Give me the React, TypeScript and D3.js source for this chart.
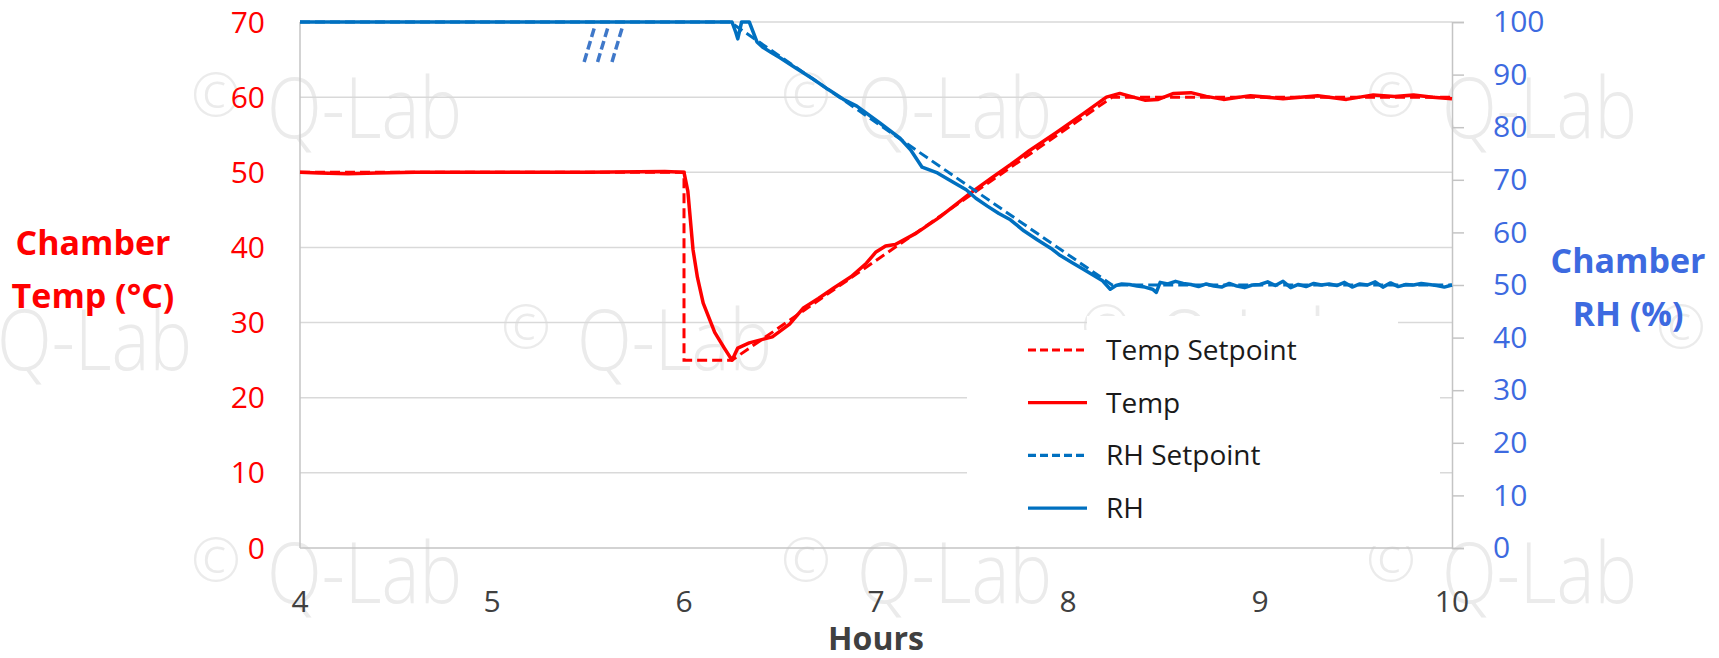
// App.tsx
import { useEffect, useRef } from 'react';
import * as d3 from 'd3';

// Temperature setpoint (°C) vs hours
const tempSetHours = [4, 6.0, 6.0, 6.25, 8.23, 10];
const tempSetValues = [50, 50, 25, 25, 60, 60];

// Measured chamber temperature (°C)
const tempHours = [
  4, 4.1, 4.25, 4.4, 4.6, 5, 5.5, 5.9, 6.0, 6.02, 6.047, 6.07, 6.1, 6.16, 6.21, 6.25,
  6.28, 6.34, 6.46, 6.55, 6.62, 6.7, 6.78, 6.87, 6.95, 7.0, 7.05, 7.1, 7.21, 7.33, 7.49,
  7.6, 7.7, 7.8, 7.94, 8.08, 8.2, 8.27, 8.34, 8.4, 8.47, 8.55, 8.64, 8.72, 8.81, 8.95,
  9.12, 9.3, 9.45, 9.59, 9.7, 9.8, 9.9, 10,
];
const tempValues = [
  50, 49.9, 49.8, 49.9, 50, 50, 50, 50.1, 50, 47.5, 39.7, 36, 32.6, 28.7, 26.6, 25.0,
  26.6, 27.3, 28.1, 29.8, 31.9, 33.2, 34.6, 36.1, 37.9, 39.4, 40.2, 40.4, 41.9, 44.0, 47.2,
  49.2, 51.0, 52.9, 55.3, 57.8, 60.0, 60.5, 60.0, 59.6, 59.7, 60.5, 60.6, 60.1, 59.7, 60.2,
  59.8, 60.2, 59.7, 60.3, 60.1, 60.3, 60.0, 59.8,
];

// RH setpoint (%)
const rhSetHours = [4, 6.24, 8.23, 10];
const rhSetValues = [100, 100, 50, 50];

// Measured chamber RH (%)
const rhHours = [
  4, 6.25, 6.27, 6.28, 6.3, 6.34, 6.38, 6.41, 6.45, 6.5, 6.58, 6.67, 6.75, 6.83, 6.9,
  7.02, 7.125, 7.18, 7.24, 7.32, 7.4, 7.47, 7.52, 7.58, 7.64, 7.7, 7.77, 7.84, 7.91, 7.96,
  8.02, 8.08, 8.13, 8.18, 8.22, 8.25, 8.28, 8.32, 8.36, 8.4, 8.44, 8.46, 8.48, 8.52, 8.56,
  8.6, 8.64, 8.68, 8.72, 8.76, 8.8, 8.84, 8.88, 8.92, 8.96, 9.0, 9.04, 9.08, 9.12, 9.16,
  9.2, 9.24, 9.28, 9.32, 9.36, 9.4, 9.44, 9.48, 9.52, 9.56, 9.6, 9.64, 9.68, 9.72, 9.76,
  9.8, 9.84, 9.88, 9.92, 9.96, 10,
];
const rhValues = [
  100, 100, 98, 96.8, 100, 100, 96.2, 95.2, 94.3, 93.2, 91.3, 89.2, 87.2, 85.3, 84.0,
  80.8, 77.9, 75.7, 72.4, 71.3, 69.6, 68.1, 66.5, 65.0, 63.6, 62.4, 60.3, 58.6, 57.0, 55.6,
  54.3, 53.0, 51.9, 50.8, 49.2, 49.9, 50.2, 50.1, 49.8, 49.6, 49.2, 48.6, 50.5, 50.2, 50.7,
  50.3, 50.1, 49.7, 50.2, 49.8, 49.6, 50.3, 49.8, 49.5, 50.0, 50.1, 50.6, 49.9, 50.7, 49.5,
  50.1, 49.7, 50.3, 50.0, 50.2, 49.9, 50.5, 49.6, 50.2, 50.0, 50.6, 49.6, 50.4, 49.7, 50.1,
  50.0, 50.3, 50.1, 49.9, 49.6, 50.0,
];

// axis ticks
const hourTicks = [4, 5, 6, 7, 8, 9, 10];
const tempTicks = [0, 10, 20, 30, 40, 50, 60, 70];
const rhTicks = [0, 10, 20, 30, 40, 50, 60, 70, 80, 90, 100];

// "///" break marks near the top (hour at bottom end)
const breakHours = [5.48, 5.55, 5.625];

const legendItems = ['Temp Setpoint', 'Temp', 'RH Setpoint', 'RH'];

const RED = '#ff0000';
const BLUE = '#0070c0';
const AXIS_BLUE = '#3d6ae0';

const App = () => {
  const ref = useRef<SVGSVGElement | null>(null);

  useEffect(() => {
    const W = 1719;
    const H = 658;
    const left = 300, right = 1452, top = 22, bottom = 548;
    const svg = d3.select(ref.current).attr('width', W).attr('height', H);
    svg.selectAll('*').remove();

    const x = d3.scaleLinear().domain([4, 10]).range([left, right]);
    const yT = d3.scaleLinear().domain([0, 70]).range([bottom, top]);
    const yR = d3.scaleLinear().domain([0, 100]).range([bottom, top]);

    svg.append('rect').attr('width', W).attr('height', H).attr('fill', '#fff');

    // watermarks
    const wm = svg.append('g').attr('fill', '#ebebeb').style('font-family', '"Open Sans", sans-serif').style('font-weight', 300);
    const rows = [
      { y: 138, xs: [195, 785, 1370] },
      { y: 370, xs: [-75, 505, 1085, 1660] },
      { y: 603, xs: [195, 785, 1370] },
    ];
    rows.forEach((r) => {
      r.xs.forEach((x0) => {
        wm.append('text').attr('x', x0 - 4).attr('y', r.y - 22).style('font-size', '60px').text('©');
        wm.append('text').attr('x', x0 + 72).attr('y', r.y).style('font-size', '84px')
          .attr('textLength', 195).attr('lengthAdjust', 'spacingAndGlyphs').text('Q-Lab');
      });
    });

    // gridlines
    svg.append('g').selectAll('line').data(tempTicks.filter((t) => t > 0)).enter().append('line')
      .attr('x1', left).attr('x2', right)
      .attr('y1', (d) => yT(d)).attr('y2', (d) => yT(d))
      .attr('stroke', '#d9d9d9').attr('stroke-width', 1.5);

    // axes lines
    svg.append('line').attr('x1', left).attr('x2', left).attr('y1', top).attr('y2', bottom)
      .attr('stroke', '#c4c4c4').attr('stroke-width', 1.5);
    svg.append('line').attr('x1', left).attr('x2', right).attr('y1', bottom).attr('y2', bottom)
      .attr('stroke', '#c4c4c4').attr('stroke-width', 1.5);

    // right axis
    const ra = svg.append('g').attr('transform', `translate(${right},0)`)
      .call(d3.axisRight(yR).tickValues(rhTicks).tickSize(12).tickPadding(29).tickFormat((d) => String(d)));
    ra.select('.domain').attr('stroke', '#c4c4c4').attr('stroke-width', 1.5);
    ra.selectAll('.tick line').attr('stroke', '#c4c4c4').attr('stroke-width', 1.5);
    ra.selectAll('.tick text').attr('fill', AXIS_BLUE).style('font-size', '30px')
      .style('font-family', '"Open Sans", sans-serif');

    // left tick labels
    svg.append('g').selectAll('text').data(tempTicks).enter().append('text')
      .attr('x', 265).attr('y', (d) => yT(d)).attr('dy', '0.35em')
      .attr('text-anchor', 'end').attr('fill', RED)
      .style('font-size', '30px').style('font-family', '"Open Sans", sans-serif')
      .text((d) => d);

    // bottom tick labels
    svg.append('g').selectAll('text').data(hourTicks).enter().append('text')
      .attr('x', (d) => x(d)).attr('y', 601).attr('dy', '0.35em')
      .attr('text-anchor', 'middle').attr('fill', '#404040')
      .style('font-size', '30px').style('font-family', '"Open Sans", sans-serif')
      .text((d) => d);

    // axis titles
    svg.append('text').attr('x', (left + right) / 2).attr('y', 650).attr('text-anchor', 'middle')
      .attr('fill', '#404040').style('font-size', '32px').style('font-weight', 700)
      .style('font-family', '"Open Sans", sans-serif').text('Hours');

    const lt = svg.append('text').attr('text-anchor', 'middle').attr('fill', RED)
      .style('font-size', '34px').style('font-weight', 700).style('font-family', '"Open Sans", sans-serif');
    lt.append('tspan').attr('x', 93).attr('y', 255).text('Chamber');
    lt.append('tspan').attr('x', 93).attr('y', 308).text('Temp (°C)');

    const rt = svg.append('text').attr('text-anchor', 'middle').attr('fill', AXIS_BLUE)
      .style('font-size', '34px').style('font-weight', 700).style('font-family', '"Open Sans", sans-serif');
    rt.append('tspan').attr('x', 1628).attr('y', 273).text('Chamber');
    rt.append('tspan').attr('x', 1628).attr('y', 326).text('RH (%)');

    // break marks
    svg.append('g').selectAll('line').data(breakHours).enter().append('line')
      .attr('x1', (d) => x(d)).attr('y1', yR(92.4))
      .attr('x2', (d) => x(d + 0.053)).attr('y2', yR(98.9))
      .attr('stroke', '#3f78c9').attr('stroke-width', 3.5).attr('stroke-dasharray', '9,4');

    // series
    const line = d3.line<[number, number]>().x((d) => x(d[0]));
    const zip = (a: number[], b: number[]) => a.map((h, i) => [h, b[i]] as [number, number]);

    svg.append('path').datum(zip(tempSetHours, tempSetValues))
      .attr('d', line.y((d) => yT(d[1])))
      .attr('fill', 'none').attr('stroke', RED).attr('stroke-width', 3).attr('stroke-dasharray', '10,5');
    svg.append('path').datum(zip(tempHours, tempValues))
      .attr('d', line.y((d) => yT(d[1])))
      .attr('fill', 'none').attr('stroke', RED).attr('stroke-width', 3.5).attr('stroke-linejoin', 'round');
    svg.append('path').datum(zip(rhSetHours, rhSetValues))
      .attr('d', line.y((d) => yR(d[1])))
      .attr('fill', 'none').attr('stroke', BLUE).attr('stroke-width', 3).attr('stroke-dasharray', '10,5');
    svg.append('path').datum(zip(rhHours, rhValues))
      .attr('d', line.y((d) => yR(d[1])))
      .attr('fill', 'none').attr('stroke', BLUE).attr('stroke-width', 3.5).attr('stroke-linejoin', 'round');

    // legend
    const lg = svg.append('g');
    lg.append('rect').attr('x', 1087).attr('y', 316).attr('width', 311).attr('height', 20).attr('fill', '#fff');
    lg.append('rect').attr('x', 967).attr('y', 330).attr('width', 473).attr('height', 216).attr('fill', '#fff');
    const styles = [
      { c: RED, dash: '8,4' },
      { c: RED, dash: null },
      { c: BLUE, dash: '8,4' },
      { c: BLUE, dash: null },
    ];
    legendItems.forEach((name, i) => {
      const yy = 350 + i * 52.7;
      const l = lg.append('line').attr('x1', 1028).attr('x2', 1087).attr('y1', yy).attr('y2', yy)
        .attr('stroke', styles[i].c).attr('stroke-width', 3.2);
      if (styles[i].dash) l.attr('stroke-dasharray', styles[i].dash);
      lg.append('text').attr('x', 1106).attr('y', yy).attr('dy', '0.35em').attr('fill', '#1a1a1a')
        .style('font-size', '28px').style('font-family', '"Open Sans", sans-serif').text(name);
    });
  }, []);

  return <svg ref={ref} style={{ position: 'absolute', left: 0, top: 0 }}></svg>;
};

export default App;
